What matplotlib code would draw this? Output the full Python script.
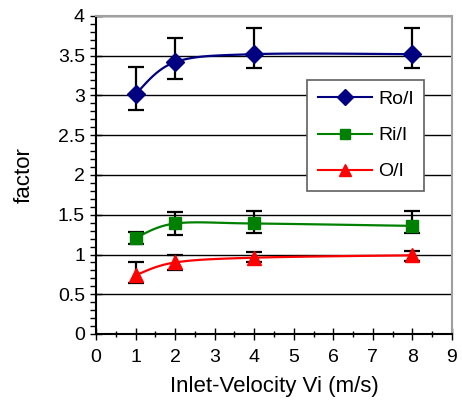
import numpy as np
import matplotlib
matplotlib.use('Agg')
from matplotlib import pyplot as plt
from matplotlib.ticker import MultipleLocator

plt.rcParams['font.family'] = ['Liberation Sans', 'DejaVu Sans']

vel = [1, 2, 4, 8]
ro_i = [3.02, 3.42, 3.52, 3.52]
ro_lo = [0.20, 0.21, 0.18, 0.18]
ro_hi = [0.34, 0.30, 0.33, 0.33]
ri_i = [1.21, 1.39, 1.39, 1.36]
ri_lo = [0.08, 0.14, 0.12, 0.09]
ri_hi = [0.07, 0.14, 0.16, 0.19]
o_i = [0.74, 0.90, 0.96, 0.99]
o_lo = [0.10, 0.09, 0.05, 0.07]
o_hi = [0.16, 0.10, 0.07, 0.06]


def smooth(xs, ys, n=40):
    # excel-like bezier smoothing through the points
    xs = np.asarray(xs, float)
    ys = np.asarray(ys, float)
    px, py = [], []
    for i in range(len(xs) - 1):
        x0, y0 = xs[i], ys[i]
        x3, y3 = xs[i + 1], ys[i + 1]
        xa = xs[i - 1] if i > 0 else x0
        ya = ys[i - 1] if i > 0 else y0
        xb = xs[i + 2] if i + 2 < len(xs) else x3
        yb = ys[i + 2] if i + 2 < len(xs) else y3
        x1, y1 = x0 + (x3 - xa) / 6, y0 + (y3 - ya) / 6
        x2, y2 = x3 - (xb - x0) / 6, y3 - (yb - y0) / 6
        t = np.linspace(0, 1, n)
        px.extend((1-t)**3*x0 + 3*(1-t)**2*t*x1 + 3*(1-t)*t**2*x2 + t**3*x3)
        py.extend((1-t)**3*y0 + 3*(1-t)**2*t*y1 + 3*(1-t)*t**2*y2 + t**3*y3)
    return px, py


fig = plt.figure(figsize=(4.62, 4.04), dpi=100)
ax = fig.add_axes([96/462, 1-334/404, 356/462, 318/404])

series = [
    (ro_i, ro_lo, ro_hi, '#000080', 'D', 'Ro/I', 9.5),
    (ri_i, ri_lo, ri_hi, '#008000', 's', 'Ri/I', 9),
    (o_i, o_lo, o_hi, '#ff0000', '^', 'O/I', 10),
]
handles = []
for ys, lo, hi, col, mk, lab, ms in series:
    sx, sy = smooth(vel, ys)
    ax.plot(sx, sy, color=col, lw=1.6, zorder=3)
    ax.errorbar(vel, ys, yerr=[lo, hi], fmt='none', ecolor='black',
                elinewidth=1.6, capsize=6, capthick=1.6, zorder=4)
    ax.plot(vel, ys, ls='none', marker=mk, color=col, ms=ms, zorder=5)
    h, = ax.plot([], [], color=col, lw=1.5, marker=mk, ms=ms - 1.5, label=lab)
    handles.append(h)

ax.set_xlim(0, 9)
ax.set_ylim(0, 4)
ax.xaxis.set_major_locator(MultipleLocator(1))
ax.xaxis.set_minor_locator(MultipleLocator(0.5))
ax.yaxis.set_minor_locator(MultipleLocator(0.1))
ax.set_yticks([0, 0.5, 1, 1.5, 2, 2.5, 3, 3.5, 4])
ax.set_yticklabels(['0', '0.5', '1', '1.5', '2', '2.5', '3', '3.5', '4'])
ax.grid(axis='y', which='major', color='black', lw=1)
ax.set_axisbelow(True)

ax.tick_params(axis='x', which='major', direction='inout', length=8, width=1,
               labelsize=14, pad=7)
ax.tick_params(axis='x', which='minor', direction='inout', length=5, width=1)
ax.tick_params(axis='y', which='major', direction='inout', length=8, width=1,
               labelsize=14, pad=4)
ax.tick_params(axis='y', which='minor', direction='out', length=4, width=1)

for s in ['left', 'bottom']:
    ax.spines[s].set_color('black')
    ax.spines[s].set_linewidth(1.5)
for s in ['top', 'right']:
    ax.spines[s].set_color('#a0a0a0')
    ax.spines[s].set_linewidth(1.5)

ax.set_xlabel('Inlet-Velocity Vi (m/s)', fontsize=16, labelpad=7)
ax.set_ylabel('factor', fontsize=16, labelpad=17)

leg = ax.legend(handles=handles, loc='upper left',
                bbox_to_anchor=((307-96)/356, 1-(80-16)/318), fontsize=14,
                frameon=True, fancybox=False, borderpad=0.55,
                labelspacing=0.95, handlelength=2.8, handletextpad=0.3,
                borderaxespad=0)
leg.get_frame().set_edgecolor('#606060')
leg.get_frame().set_linewidth(1.2)
leg.get_frame().set_alpha(1)

fig.savefig('out.png', dpi=100)
